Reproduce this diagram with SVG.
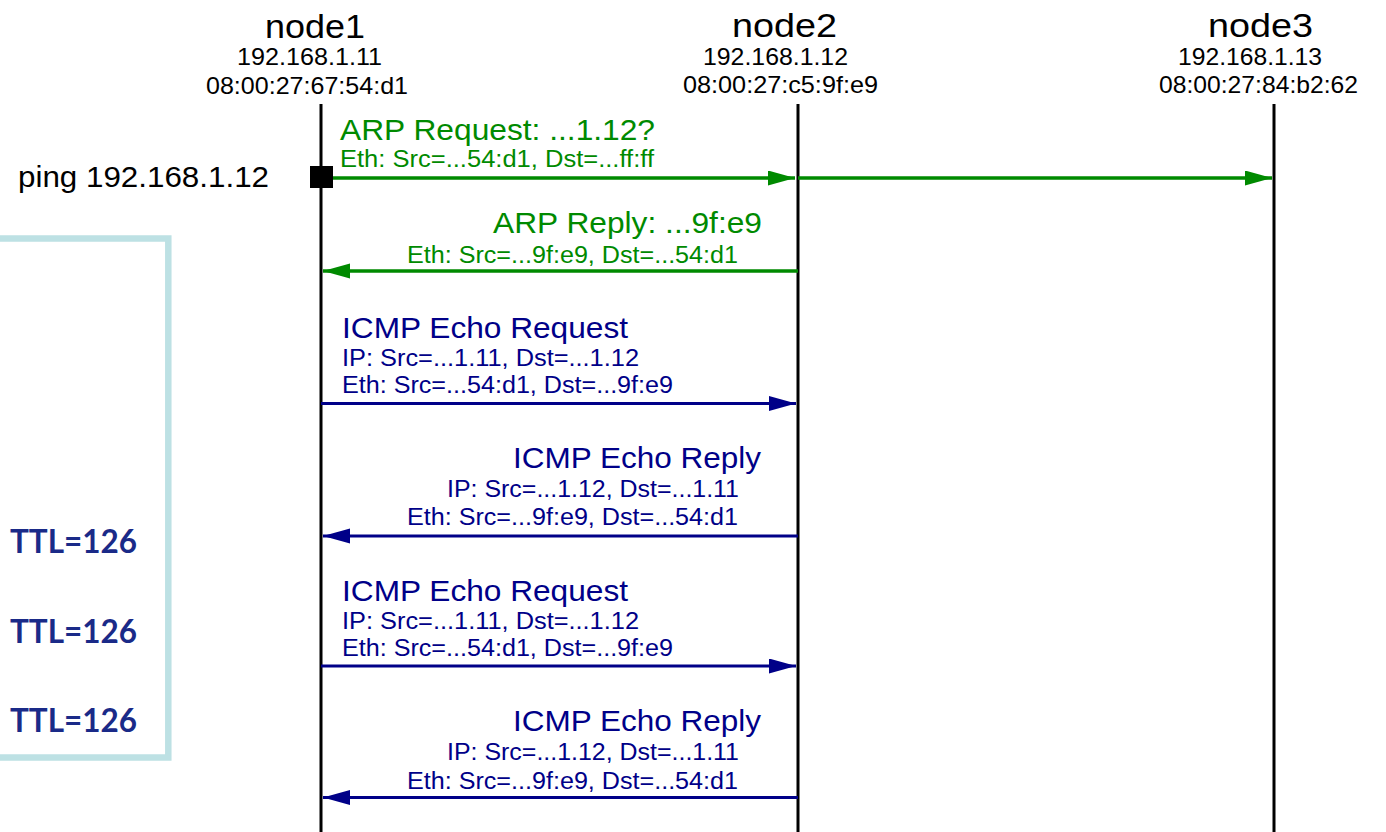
<svg xmlns="http://www.w3.org/2000/svg" width="1386" height="832" viewBox="0 0 1386 832">
  <style>
    text { font-family: "Liberation Sans", Arial, sans-serif; }
    .title { font-size: 33px; fill: #000; }
    .addr { font-size: 24px; fill: #000; }
    .cmd { font-size: 29px; fill: #000; }
    .lifeline { stroke: #000; stroke-width: 3; fill: none; }
    .arp { fill: #008a00; }
    .icmp { fill: #000088; }
    .head { font-size: 30px; }
    .sub { font-size: 23px; }
    .msg-arp { stroke: #008a00; stroke-width: 3.5; fill: none; marker-end: url(#arrow-green); }
    .msg-icmp { stroke: #000088; stroke-width: 3.2; fill: none; marker-end: url(#arrow-blue); }
    .ttl { font-family: Lato, "Open Sans", sans-serif; font-weight: 700; font-size: 33px; fill: #1a2a88; }
    .note { fill: none; stroke: #bde1e4; stroke-width: 6.5; }
  </style>
  <defs>
    <marker id="arrow-green" markerUnits="userSpaceOnUse" markerWidth="28" markerHeight="16" refX="27" refY="7.5" orient="auto">
      <path d="M0,0 L27,7.5 L0,15 z" fill="#008a00"/>
    </marker>
    <marker id="arrow-blue" markerUnits="userSpaceOnUse" markerWidth="28" markerHeight="16" refX="27" refY="7.5" orient="auto">
      <path d="M0,0 L27,7.5 L0,15 z" fill="#000088"/>
    </marker>
  </defs>

  <rect width="1386" height="832" fill="#fff"/>

  <!-- TTL annotation box (left edge runs off the canvas) -->
  <g id="ttl-note">
    <rect class="note" x="-20" y="238.5" width="188.3" height="519"/>
    <text class="ttl" x="10" y="553" textLength="127" lengthAdjust="spacingAndGlyphs">TTL=126</text>
    <text class="ttl" x="10" y="643" textLength="127" lengthAdjust="spacingAndGlyphs">TTL=126</text>
    <text class="ttl" x="10" y="732" textLength="127" lengthAdjust="spacingAndGlyphs">TTL=126</text>
  </g>

  <!-- hosts with their lifelines -->
  <g id="node1">
    <text class="title" x="265" y="38" textLength="100" lengthAdjust="spacingAndGlyphs">node1</text>
    <text class="addr" x="237" y="65" textLength="145" lengthAdjust="spacingAndGlyphs">192.168.1.11</text>
    <text class="addr" x="206" y="94" textLength="202" lengthAdjust="spacingAndGlyphs">08:00:27:67:54:d1</text>
    <line class="lifeline" x1="321" y1="104" x2="321" y2="832" stroke-width="3.5"/>
  </g>
  <g id="node2">
    <text class="title" x="732" y="37" textLength="105" lengthAdjust="spacingAndGlyphs">node2</text>
    <text class="addr" x="703" y="65" textLength="145" lengthAdjust="spacingAndGlyphs">192.168.1.12</text>
    <text class="addr" x="683" y="93" textLength="195" lengthAdjust="spacingAndGlyphs">08:00:27:c5:9f:e9</text>
    <line class="lifeline" x1="798" y1="104" x2="798" y2="832"/>
  </g>
  <g id="node3">
    <text class="title" x="1208" y="37" textLength="105" lengthAdjust="spacingAndGlyphs">node3</text>
    <text class="addr" x="1178" y="65" textLength="144" lengthAdjust="spacingAndGlyphs">192.168.1.13</text>
    <text class="addr" x="1159" y="93" textLength="199" lengthAdjust="spacingAndGlyphs">08:00:27:84:b2:62</text>
    <line class="lifeline" x1="1274" y1="104" x2="1274" y2="832"/>
  </g>

  <!-- ping command start point -->
  <g id="ping">
    <text class="cmd" x="18" y="187" textLength="251" lengthAdjust="spacingAndGlyphs">ping 192.168.1.12</text>
    <rect x="310" y="166" width="23" height="22" fill="#000"/>
  </g>

  <!-- message arrows -->
  <g id="connectors">
    <line class="msg-arp" x1="333" y1="178" x2="795" y2="178"/>
    <line class="msg-arp" x1="798" y1="178" x2="1272" y2="178"/>
    <line class="msg-arp" x1="798" y1="271" x2="323" y2="271"/>
    <line class="msg-icmp" x1="321" y1="403.5" x2="796" y2="403.5"/>
    <line class="msg-icmp" x1="798" y1="536" x2="323" y2="536"/>
    <line class="msg-icmp" x1="321" y1="666" x2="796" y2="666"/>
    <line class="msg-icmp" x1="798" y1="797.5" x2="323" y2="797.5"/>
  </g>

  <!-- message labels -->
  <g id="arp-request" class="arp">
    <text class="head" x="340" y="140" textLength="315" lengthAdjust="spacingAndGlyphs">ARP Request: ...1.12?</text>
    <text class="sub" x="340" y="167" textLength="314" lengthAdjust="spacingAndGlyphs">Eth: Src=...54:d1, Dst=...ff:ff</text>
  </g>
  <g id="arp-reply" class="arp">
    <text class="head" x="493" y="233" textLength="269" lengthAdjust="spacingAndGlyphs">ARP Reply: ...9f:e9</text>
    <text class="sub" x="407" y="263" textLength="331" lengthAdjust="spacingAndGlyphs">Eth: Src=...9f:e9, Dst=...54:d1</text>
  </g>
  <g id="echo-request-1" class="icmp">
    <text class="head" x="342" y="338" textLength="286" lengthAdjust="spacingAndGlyphs">ICMP Echo Request</text>
    <text class="sub" x="342" y="366" textLength="297" lengthAdjust="spacingAndGlyphs">IP: Src=...1.11, Dst=...1.12</text>
    <text class="sub" x="342" y="393" textLength="331" lengthAdjust="spacingAndGlyphs">Eth: Src=...54:d1, Dst=...9f:e9</text>
  </g>
  <g id="echo-reply-1" class="icmp">
    <text class="head" x="513" y="468" textLength="248" lengthAdjust="spacingAndGlyphs">ICMP Echo Reply</text>
    <text class="sub" x="447" y="497" textLength="292" lengthAdjust="spacingAndGlyphs">IP: Src=...1.12, Dst=...1.11</text>
    <text class="sub" x="407" y="525" textLength="331" lengthAdjust="spacingAndGlyphs">Eth: Src=...9f:e9, Dst=...54:d1</text>
  </g>
  <g id="echo-request-2" class="icmp">
    <text class="head" x="342" y="601" textLength="286" lengthAdjust="spacingAndGlyphs">ICMP Echo Request</text>
    <text class="sub" x="342" y="629" textLength="297" lengthAdjust="spacingAndGlyphs">IP: Src=...1.11, Dst=...1.12</text>
    <text class="sub" x="342" y="656" textLength="331" lengthAdjust="spacingAndGlyphs">Eth: Src=...54:d1, Dst=...9f:e9</text>
  </g>
  <g id="echo-reply-2" class="icmp">
    <text class="head" x="513" y="731" textLength="248" lengthAdjust="spacingAndGlyphs">ICMP Echo Reply</text>
    <text class="sub" x="447" y="760" textLength="292" lengthAdjust="spacingAndGlyphs">IP: Src=...1.12, Dst=...1.11</text>
    <text class="sub" x="407" y="789" textLength="331" lengthAdjust="spacingAndGlyphs">Eth: Src=...9f:e9, Dst=...54:d1</text>
  </g>
</svg>
